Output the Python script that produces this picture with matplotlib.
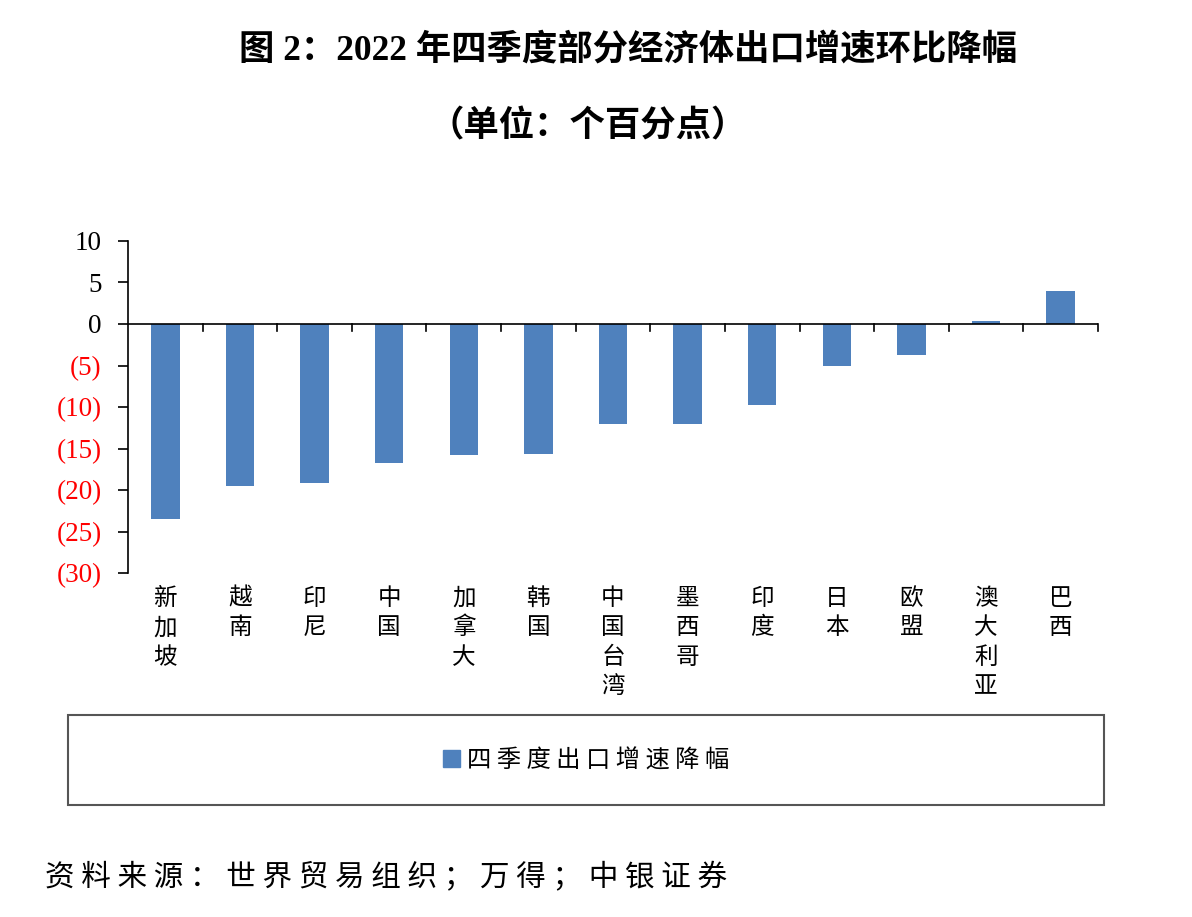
import matplotlib
matplotlib.use("Agg")
import matplotlib.pyplot as plt
from matplotlib.patches import Rectangle, Patch

plt.rcParams['font.family'] = ['Liberation Serif', 'Noto Sans CJK SC', 'DejaVu Sans']

economies = ["新加坡", "越南", "印尼", "中国", "加拿大", "韩国", "中国台湾",
             "墨西哥", "印度", "日本", "欧盟", "澳大利亚", "巴西"]
q4_drop = [-23.5, -19.5, -19.2, -16.8, -15.8, -15.7, -12.0,
           -12.0, -9.8, -5.1, -3.7, 0.4, 4.0]
y_ticks = [10, 5, 0, -5, -10, -15, -20, -25, -30]
y_labels = ["10", "5", "0", "(5)", "(10)", "(15)", "(20)", "(25)", "(30)"]
legend_label = "四季度出口增速降幅"
source = "资料来源：世界贸易组织；万得；中银证券"

bar_color = "#4f81bd"
cjk = ['Noto Sans CJK SC', 'DejaVu Sans']


def spaced(s):
    # loosen the CJK text a bit like the original
    return " ".join(s)


fig = plt.figure(figsize=(11.92, 9.17), dpi=100)
ax = fig.add_axes([0.1074, 0.3751, 0.8137, 0.3621])

x = list(range(len(economies)))
ax.bar(x, q4_drop, width=0.38, color=bar_color, zorder=2)

ax.set_xlim(-0.5, len(economies) - 0.5)
ax.set_ylim(-30, 10)

for s in ["top", "right", "bottom"]:
    ax.spines[s].set_visible(False)
ax.spines["left"].set_linewidth(1.2)
ax.axhline(0, color="black", lw=1.2, zorder=3)

ax.set_yticks(y_ticks)
ax.set_yticklabels(y_labels, fontsize=19.5)
for lbl, v in zip(ax.get_yticklabels(), y_ticks):
    lbl.set_color("red" if v < 0 else "black")
ax.tick_params(axis="y", direction="out", length=7, width=1.2, pad=12)

# category labels stacked vertically below the plot
ax.set_xticks(x)
ax.set_xticklabels(["\n".join(n) for n in economies], fontsize=17,
                   family=cjk, va="top", linespacing=1.36)
ax.tick_params(axis="x", which="major", length=0, pad=10)

# boundary ticks hanging from the zero line
for b in [i + 0.5 for i in x]:
    ax.plot([b, b], [0, -0.85], color="black", lw=1.2, zorder=3, clip_on=False)

fig.text(0.527, 0.945, "图 2：2022 年四季度部分经济体出口增速环比降幅",
         ha="center", va="center", fontsize=25.5, fontweight="bold")
fig.text(0.493, 0.861, "（单位：个百分点）", ha="center", va="center",
         fontsize=25.5, fontweight="bold")

# legend box
box = Rectangle((0.057, 0.122), 0.869, 0.098, transform=fig.transFigure,
                fill=False, edgecolor="#555555", lw=1.5)
fig.add_artist(box)
fig.legend(handles=[Patch(color=bar_color, label=spaced(legend_label))],
           loc="center", bbox_to_anchor=(0.4915, 0.171), frameon=False,
           prop={"family": cjk, "size": 17.5}, handlelength=0.7,
           handleheight=0.7, handletextpad=0.3)

fig.text(0.038, 0.0425, spaced(source),
         ha="left", va="center", fontsize=21.3, family=cjk)

fig.savefig("out.png", dpi=100)
